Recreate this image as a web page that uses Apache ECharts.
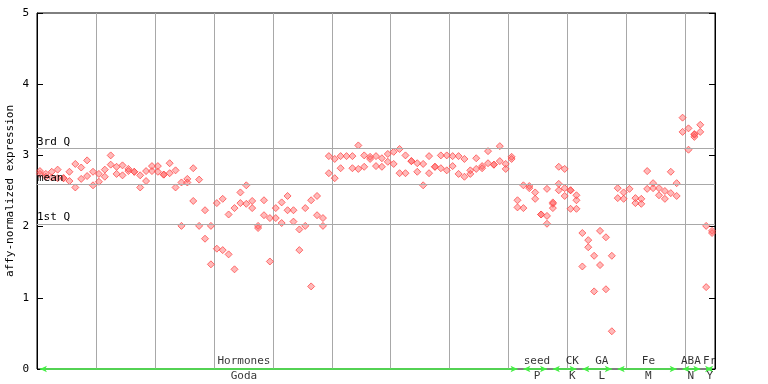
<!DOCTYPE html>
<html><head><meta charset="utf-8">
<script src="https://cdn.jsdelivr.net/npm/echarts@6/dist/echarts.min.js"></script>
<style>html,body{margin:0;padding:0;background:#fff}#c{width:768px;height:384px}</style>
</head><body><div id="c"></div>
<script>
// replicate values per sample slot (index = sample position)
const rep1 = [2.78,2.74,2.77,2.80,2.68,2.77,2.88,2.83,2.93,2.77,2.74,2.80,3.00,2.84,2.86,2.81,2.77,2.72,2.78,2.85,
2.85,2.73,2.89,2.79,2.62,2.67,2.82,2.66,2.23,2.01,2.33,2.39,2.17,2.26,2.48,2.58,2.36,2.01,2.37,2.12,
2.26,2.34,2.43,2.23,1.96,2.26,2.37,2.43,2.12,2.99,2.95,2.99,2.99,2.99,3.14,3.00,2.98,2.99,2.96,3.02,
3.05,3.09,3.00,2.92,2.89,2.88,2.99,2.84,3.00,3.00,2.99,2.99,2.95,2.79,2.96,2.85,3.06,2.87,3.13,2.88,
2.98,2.37,2.58,2.57,2.48,2.17,2.53,2.34,2.84,2.81,2.51,2.44,1.91,1.81,1.59,1.94,1.85,1.59,2.54,2.48,
2.53,2.40,2.39,2.78,2.61,2.54,2.50,2.77,2.61,3.53,3.38,3.30,3.43,2.01,1.94];
const rep2 = [2.74,2.70,2.69,2.68,2.68,2.64,2.55,2.67,2.71,2.58,2.63,2.70,2.87,2.74,2.72,2.78,2.77,2.55,2.64,2.78,
2.77,2.73,2.75,2.55,2.01,2.62,2.36,2.01,1.83,1.47,1.69,1.67,1.61,1.40,2.33,2.32,2.26,1.98,2.16,1.51,
2.12,2.05,2.23,2.07,1.67,2.01,1.16,2.16,2.01,2.75,2.68,2.82,null,2.82,2.81,2.84,2.95,2.85,2.84,2.91,
2.88,2.75,2.75,2.92,2.77,2.58,2.75,2.84,2.82,2.79,2.85,2.74,2.70,2.74,2.81,2.82,2.89,2.87,2.92,2.81,
2.95,2.27,2.26,2.54,2.39,2.17,2.15,2.32,2.60,2.54,2.51,2.37,1.44,1.71,1.09,1.46,1.12,0.53,2.40,2.39,
null,2.33,2.32,2.53,2.54,2.44,2.39,2.47,2.43,3.33,3.08,3.29,3.33,1.15,1.91];
const rep3Slots = [86,87,88,89,90,91,111];
const rep3Values = [2.04,2.26,2.51,2.43,2.25,2.25,3.26];

const statNames = ['3rd Q','mean','1st Q'];
const statValues = [3.10,2.59,2.04];

const groupNames = ['Hormones','seed','CK','GA','Fe','ABA','Fr'];
const groupSubs = ['Goda','P','K','L','M','N','Y'];
const groupStart = [0,82,87,92,98,109,113];
const groupEnd = [81,86,91,97,108,112,114];
const groupLabelAt = [35.1,84.8,90.8,95.8,103.7,110.9,114.1];

const yTicks = [0,1,2,3,4,5];
const nSlots = 115;

const font = 'DejaVu Sans Mono';
const red = '#ff4c4c';

function pts(arr){const o=[];arr.forEach((v,i)=>{if(v!=null)o.push([i+0.5,v]);});return o;}
const p3 = rep3Slots.map((s,k)=>[s+0.5,rep3Values[k]]);

const markerStyle = {color:'rgba(255,80,80,0.5)',borderColor:red,borderWidth:1};
function sc(data){return {type:'scatter',data:data,symbol:'diamond',symbolSize:7,itemStyle:markerStyle,
  emphasis:{disabled:true},silent:true,z:3};}

const s1 = sc(pts(rep1));
s1.markLine = {silent:true,symbol:'none',animation:false,
  lineStyle:{color:'#a8a8a8',width:1,type:'solid'},
  label:{position:'insideStartTop',color:'#000',fontFamily:font,fontSize:11,distance:[0,1],formatter:p=>p.name},
  data: statNames.map((n,k)=>({name:n,yAxis:statValues[k]}))};

const groupLine = {type:'scatter',data:[],silent:true,
  markLine:{silent:true,animation:false,symbol:['arrow','arrow'],symbolSize:[5,7],
    lineStyle:{color:'#44ee44',width:1.5,type:'solid'},
    label:{show:false},
    data: groupNames.map((n,k)=>[{name:n,coord:[groupStart[k]+0.5,0]},{coord:[groupEnd[k]+0.5,0]}])}};

function labelSeries(names,pos){
  return {type:'scatter',symbolSize:0,silent:true,z:5,
    data: names.map((s,k)=>({value:[groupLabelAt[k],0],name:s})),
    label:{show:true,position:pos,distance:2,color:'#000',fontFamily:font,fontSize:11,formatter:p=>p.name}};
}

const chart = echarts.init(document.getElementById('c'),null,{renderer:'canvas'});
chart.setOption({
  animation:false,
  grid:{left:37,top:13,width:678,height:356,containLabel:false,outerBoundsMode:'none',
    show:true,borderColor:'#000',borderWidth:1,backgroundColor:'transparent'},
  xAxis:{type:'value',min:0,max:nSlots,interval:10,axisLine:{show:false},axisTick:{show:false},axisLabel:{show:false},
    splitLine:{show:true,lineStyle:{color:'#a8a8a8',width:1}}},
  yAxis:[{type:'value',min:yTicks[0],max:yTicks[yTicks.length-1],interval:1,
    name:'affy-normalized expression',nameLocation:'middle',nameGap:21,nameMoveOverlap:false,
    nameTextStyle:{fontFamily:font,fontSize:11,color:'#000'},
    axisLine:{show:true,lineStyle:{color:'#000'}},axisTick:{show:true,inside:true,length:6,lineStyle:{color:'#000'}},
    axisLabel:{color:'#000',fontFamily:font,fontSize:11,margin:8},splitLine:{show:false}},
   {type:'value',position:'right',min:yTicks[0],max:yTicks[yTicks.length-1],interval:1,
    axisLine:{show:true,lineStyle:{color:'#000'}},axisTick:{show:true,inside:true,length:6,lineStyle:{color:'#000'}},
    axisLabel:{show:false},splitLine:{show:false}}],
  series:[s1, sc(pts(rep2)), sc(p3), groupLine, labelSeries(groupNames,'top'), labelSeries(groupSubs,'bottom')]
});
</script></body></html>
